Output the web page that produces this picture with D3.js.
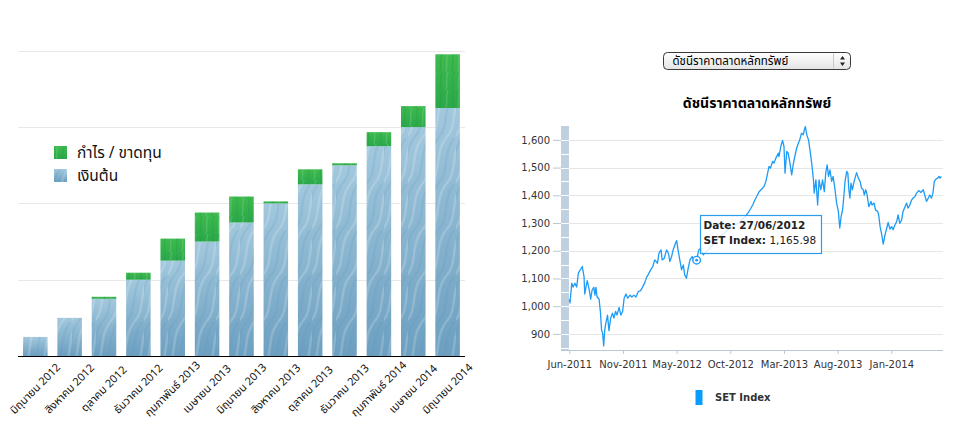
<!DOCTYPE html>
<html>
<head>
<meta charset="utf-8">
<script src="https://cdnjs.cloudflare.com/ajax/libs/d3/7.8.5/d3.min.js"></script>
<style>
  body { margin: 0; background: #fff; }
  svg text { font-family: Tahoma, "Noto Sans Thai", "Noto Sans", "DejaVu Sans", sans-serif; }
</style>
</head>
<body>
<div id="chart"></div>
<script>
// left chart: savings (principal) + profit/loss, every second month
var months = ['มิถุนายน 2012', 'สิงหาคม 2012', 'ตุลาคม 2012', 'ธันวาคม 2012', 'กุมภาพันธ์ 2013',
  'เมษายน 2013', 'มิถุนายน 2013', 'สิงหาคม 2013', 'ตุลาคม 2013', 'ธันวาคม 2013',
  'กุมภาพันธ์ 2014', 'เมษายน 2014', 'มิถุนายน 2014'];
var principal = [50000, 100000, 150000, 200000, 250000, 300000, 350000, 400000, 450000, 500000, 550000, 600000, 650000];
var profit = [0, 0, 5200, 18300, 57700, 76000, 68000, 5200, 39300, 5200, 36700, 55000, 140800];
var barGrid = [0, 200000, 400000, 600000, 800000];
var barLegend = ['กำไร / ขาดทุน', 'เงินต้น'];

// right chart: SET index
var selectLabel = 'ดัชนีราคาตลาดหลักทรัพย์';
var indexTitle = 'ดัชนีราคาตลาดหลักทรัพย์';
var tickDates = ['2011-06-01', '2011-11-01', '2012-05-01', '2012-10-01', '2013-03-01', '2013-08-01', '2014-01-01'];
var tickLabels = ['Jun-2011', 'Nov-2011', 'May-2012', 'Oct-2012', 'Mar-2013', 'Aug-2013', 'Jan-2014'];
var lastDate = '2014-06-01';
var yTicks = [900, 1000, 1100, 1200, 1300, 1400, 1500, 1600];
var tipDate = '2012-06-27', tipValue = 1165.98;

var setIndex = [
  ['2011-06-01', 1025], ['2011-06-03', 1012], ['2011-06-08', 1083], ['2011-06-12', 1069], ['2011-06-17', 1083],
  ['2011-06-22', 1069], ['2011-06-27', 1120], ['2011-07-01', 1128], ['2011-07-08', 1143], ['2011-07-13', 1107],
  ['2011-07-15', 1044], ['2011-07-22', 1092], ['2011-07-27', 1065], ['2011-08-01', 1025], ['2011-08-05', 1058],
  ['2011-08-10', 1068], ['2011-08-13', 1040], ['2011-08-16', 1068], ['2011-08-19', 1034], ['2011-08-25', 1025],
  ['2011-08-29', 975], ['2011-09-01', 914], ['2011-09-04', 902], ['2011-09-07', 857], ['2011-09-10', 914],
  ['2011-09-13', 938], ['2011-09-18', 968], ['2011-09-22', 912], ['2011-09-27', 957], ['2011-10-02', 975],
  ['2011-10-06', 957], ['2011-10-11', 981], ['2011-10-15', 968], ['2011-10-21', 996], ['2011-10-26', 968],
  ['2011-10-31', 981], ['2011-11-05', 1029], ['2011-11-11', 1044], ['2011-11-17', 1029], ['2011-11-25', 1040],
  ['2011-12-01', 1033], ['2011-12-08', 1040], ['2011-12-15', 1033], ['2011-12-23', 1053], ['2011-12-31', 1056],
  ['2012-01-06', 1068], ['2012-01-14', 1085], ['2012-01-20', 1104], ['2012-01-25', 1113], ['2012-02-03', 1131],
  ['2012-02-10', 1143], ['2012-02-15', 1161], ['2012-02-17', 1167], ['2012-02-26', 1155], ['2012-03-02', 1191],
  ['2012-03-09', 1203], ['2012-03-13', 1167], ['2012-03-20', 1173], ['2012-03-28', 1203], ['2012-04-03', 1191],
  ['2012-04-08', 1161], ['2012-04-14', 1179], ['2012-04-19', 1203], ['2012-04-25', 1221], ['2012-05-01', 1237],
  ['2012-05-05', 1203], ['2012-05-10', 1167], ['2012-05-15', 1131], ['2012-05-20', 1149], ['2012-05-24', 1113],
  ['2012-05-29', 1101], ['2012-06-03', 1137], ['2012-06-08', 1167], ['2012-06-14', 1179], ['2012-06-21', 1160],
  ['2012-06-27', 1165.98], ['2012-07-03', 1203], ['2012-07-09', 1209], ['2012-07-16', 1185], ['2012-07-23', 1195],
  ['2012-08-01', 1205], ['2012-08-09', 1218], ['2012-08-18', 1228], ['2012-08-26', 1242], ['2012-09-04', 1255],
  ['2012-09-13', 1262], ['2012-09-21', 1272], ['2012-09-30', 1282], ['2012-10-08', 1288], ['2012-10-17', 1295],
  ['2012-10-25', 1300], ['2012-11-02', 1312], ['2012-11-11', 1322], ['2012-11-19', 1335], ['2012-11-25', 1347],
  ['2012-12-03', 1365], ['2012-12-09', 1383], ['2012-12-14', 1395], ['2012-12-21', 1413], ['2012-12-28', 1422],
  ['2013-01-04', 1432], ['2013-01-09', 1450], ['2013-01-13', 1474], ['2013-01-18', 1504], ['2013-01-22', 1498],
  ['2013-01-28', 1522], ['2013-02-01', 1516], ['2013-02-06', 1534], ['2013-02-13', 1552], ['2013-02-15', 1540],
  ['2013-02-20', 1576], ['2013-02-25', 1598], ['2013-03-01', 1576], ['2013-03-04', 1480], ['2013-03-09', 1558],
  ['2013-03-13', 1552], ['2013-03-18', 1516], ['2013-03-23', 1474], ['2013-03-28', 1516], ['2013-04-01', 1540],
  ['2013-04-06', 1570], ['2013-04-11', 1588], ['2013-04-15', 1600], ['2013-04-20', 1624], ['2013-04-25', 1618],
  ['2013-04-28', 1636], ['2013-05-01', 1648], ['2013-05-05', 1618], ['2013-05-10', 1600], ['2013-05-14', 1564],
  ['2013-05-19', 1516], ['2013-05-24', 1456], ['2013-05-26', 1408], ['2013-05-31', 1456], ['2013-06-05', 1365],
  ['2013-06-09', 1456], ['2013-06-14', 1420], ['2013-06-19', 1456], ['2013-06-24', 1413], ['2013-06-28', 1480],
  ['2013-07-02', 1510], ['2013-07-06', 1468], ['2013-07-10', 1492], ['2013-07-15', 1450], ['2013-07-19', 1468],
  ['2013-07-24', 1426], ['2013-07-29', 1372], ['2013-08-03', 1342], ['2013-08-07', 1282], ['2013-08-11', 1324],
  ['2013-08-15', 1347], ['2013-08-19', 1401], ['2013-08-22', 1450], ['2013-08-27', 1486], ['2013-08-30', 1480],
  ['2013-09-02', 1420], ['2013-09-05', 1390], ['2013-09-08', 1444], ['2013-09-12', 1420], ['2013-09-17', 1450],
  ['2013-09-24', 1482], ['2013-09-29', 1462], ['2013-10-04', 1450], ['2013-10-08', 1426], ['2013-10-13', 1420],
  ['2013-10-16', 1401], ['2013-10-20', 1420], ['2013-10-23', 1408], ['2013-10-29', 1359], ['2013-11-04', 1378],
  ['2013-11-07', 1365], ['2013-11-13', 1372], ['2013-11-17', 1347], ['2013-11-23', 1342], ['2013-11-26', 1329],
  ['2013-11-30', 1287], ['2013-12-04', 1263], ['2013-12-09', 1224], ['2013-12-14', 1257], ['2013-12-19', 1282],
  ['2013-12-23', 1302], ['2013-12-28', 1278], ['2014-01-02', 1287], ['2014-01-06', 1276], ['2014-01-11', 1293],
  ['2014-01-16', 1305], ['2014-01-20', 1329], ['2014-01-25', 1299], ['2014-01-30', 1311], ['2014-02-03', 1342],
  ['2014-02-08', 1357], ['2014-02-13', 1372], ['2014-02-17', 1354], ['2014-02-22', 1365], ['2014-02-27', 1383],
  ['2014-03-03', 1390], ['2014-03-08', 1395], ['2014-03-13', 1408], ['2014-03-19', 1417], ['2014-03-25', 1410],
  ['2014-04-01', 1420], ['2014-04-05', 1401], ['2014-04-10', 1378], ['2014-04-15', 1390], ['2014-04-19', 1401],
  ['2014-04-24', 1390], ['2014-04-28', 1408], ['2014-05-02', 1450], ['2014-05-06', 1458], ['2014-05-11', 1462],
  ['2014-05-15', 1468], ['2014-05-18', 1462], ['2014-05-22', 1468]
];

(function ()
{
  'use strict';

  var svg = d3.select('#chart')
    .append('svg')
    .attr('width', 962)
    .attr('height', 439);

  var defs = svg.append('defs');
  makeTextures(defs);

  drawBars(svg);
  drawIndex(svg);

  function makeTextures(defs) {
    var gb = defs.append('linearGradient').attr('id', 'blueFill')
      .attr('x1', 0).attr('y1', 0).attr('x2', 0).attr('y2', 1);
    gb.append('stop').attr('offset', 0).attr('stop-color', '#a2c8dd');
    gb.append('stop').attr('offset', 1).attr('stop-color', '#6c9fc0');

    var gg = defs.append('linearGradient').attr('id', 'greenFill')
      .attr('x1', 0).attr('y1', 0).attr('x2', 0).attr('y2', 1);
    gg.append('stop').attr('offset', 0).attr('stop-color', '#3fba4f');
    gg.append('stop').attr('offset', 1).attr('stop-color', '#2aa84a');

    var pb = defs.append('pattern').attr('id', 'blueWaves')
      .attr('patternUnits', 'userSpaceOnUse')
      .attr('width', 24).attr('height', 46);
    ['M-2,46 C10,34 2,16 14,0', 'M6,46 C18,34 10,16 22,0', 'M14,46 C26,34 18,16 30,0', 'M-10,46 C2,34 -6,16 6,0']
      .forEach(function (p, i) {
        pb.append('path').attr('d', p).attr('fill', 'none')
          .attr('stroke', i % 2 ? '#5d92b6' : '#ffffff')
          .attr('stroke-opacity', i % 2 ? 0.16 : 0.18)
          .attr('stroke-width', 2.4);
      });

    var pg = defs.append('pattern').attr('id', 'greenStreaks')
      .attr('patternUnits', 'userSpaceOnUse')
      .attr('width', 12).attr('height', 18);
    ['M2,18 C4,12 1,6 4,0', 'M8,18 C10,12 7,6 10,0'].forEach(function (p, i) {
      pg.append('path').attr('d', p).attr('fill', 'none')
        .attr('stroke', i ? '#1f9a3c' : '#8ad48c')
        .attr('stroke-opacity', 0.3)
        .attr('stroke-width', 1.6);
    });
  }

  function drawBars(svg) {
    var g = svg.append('g').attr('class', 'bars');

    var x = d3.scaleBand()
      .domain(months)
      .range([18.3, 464.6])
      .paddingInner(0.286)
      .paddingOuter(0.137);
    var y = d3.scaleLinear().domain([0, 800000]).range([356, 50.8]);

    g.selectAll('line.grid')
      .data(barGrid.slice(1))
      .enter().append('line')
      .attr('class', 'grid')
      .attr('x1', 18).attr('x2', 465)
      .attr('y1', function (d) { return Math.round(y(d)) + 0.5; })
      .attr('y2', function (d) { return Math.round(y(d)) + 0.5; })
      .attr('stroke', '#e8e8e8');

    var bar = g.selectAll('g.bar')
      .data(months)
      .enter().append('g')
      .attr('class', 'bar');

    bar.append('rect')
      .attr('x', function (d) { return x(d); })
      .attr('width', x.bandwidth())
      .attr('y', function (d, i) { return y(principal[i]); })
      .attr('height', function (d, i) { return y(0) - y(principal[i]); })
      .attr('fill', 'url(#blueFill)');
    bar.append('rect')
      .attr('x', function (d) { return x(d); })
      .attr('width', x.bandwidth())
      .attr('y', function (d, i) { return y(principal[i]); })
      .attr('height', function (d, i) { return y(0) - y(principal[i]); })
      .attr('fill', 'url(#blueWaves)');

    bar.append('rect')
      .attr('x', function (d) { return x(d); })
      .attr('width', x.bandwidth())
      .attr('y', function (d, i) { return y(principal[i] + profit[i]); })
      .attr('height', function (d, i) { return y(principal[i]) - y(principal[i] + profit[i]); })
      .attr('fill', 'url(#greenFill)');
    bar.append('rect')
      .attr('x', function (d) { return x(d); })
      .attr('width', x.bandwidth())
      .attr('y', function (d, i) { return y(principal[i] + profit[i]); })
      .attr('height', function (d, i) { return y(principal[i]) - y(principal[i] + profit[i]); })
      .attr('fill', 'url(#greenStreaks)');

    g.append('line')
      .attr('x1', 18).attr('x2', 465)
      .attr('y1', 356.5).attr('y2', 356.5)
      .attr('stroke', '#000');

    g.selectAll('text.month')
      .data(months)
      .enter().append('text')
      .attr('class', 'month')
      .attr('transform', function (d) {
        return 'translate(' + (x(d) + x.bandwidth() / 2) + ',389) rotate(-45)';
      })
      .attr('text-anchor', 'middle')
      .attr('dominant-baseline', 'central')
      .attr('font-size', 11)
      .attr('fill', '#111')
      .text(function (d) { return d; });

    // legend
    var fills = [['url(#greenFill)', 'url(#greenStreaks)'], ['url(#blueFill)', 'url(#blueWaves)']];
    var leg = g.selectAll('g.legend')
      .data(barLegend)
      .enter().append('g')
      .attr('class', 'legend')
      .attr('transform', function (d, i) { return 'translate(54,' + (146 + i * 23) + ')'; });
    leg.append('rect').attr('width', 13).attr('height', 13)
      .attr('fill', function (d, i) { return fills[i][0]; });
    leg.append('rect').attr('width', 13).attr('height', 13)
      .attr('fill', function (d, i) { return fills[i][1]; });
    leg.append('text')
      .attr('x', 23).attr('y', 12)
      .attr('font-size', 15.5)
      .attr('fill', '#111')
      .text(function (d) { return d; });
  }

  function drawIndex(svg) {
    var g = svg.append('g').attr('class', 'index');
    var parse = d3.timeParse('%Y-%m-%d');
    var left = 561, right = 943, top = 126, bottom = 350;

    // fake dropdown
    var sel = g.append('g').attr('transform', 'translate(663.5,52.5)');
    var sg = defs.append('linearGradient').attr('id', 'selFill')
      .attr('x1', 0).attr('y1', 0).attr('x2', 0).attr('y2', 1);
    sg.append('stop').attr('offset', 0).attr('stop-color', '#ffffff');
    sg.append('stop').attr('offset', 1).attr('stop-color', '#e4e4e4');
    sel.append('rect').attr('width', 187).attr('height', 17).attr('rx', 4)
      .attr('fill', 'url(#selFill)').attr('stroke', '#3a3a3a');
    sel.append('line').attr('x1', 170).attr('x2', 170).attr('y1', 1).attr('y2', 16)
      .attr('stroke', '#c8c8c8');
    sel.append('path').attr('d', 'M176.5,7 L179,3.5 L181.5,7 Z M176.5,10 L179,13.5 L181.5,10 Z')
      .attr('fill', '#222');
    sel.append('text').attr('x', 9).attr('y', 12.5)
      .attr('font-size', 11.5).attr('fill', '#000')
      .text(selectLabel);

    g.append('text')
      .attr('x', 757).attr('y', 108)
      .attr('text-anchor', 'middle')
      .attr('font-size', 14).attr('font-weight', 'bold')
      .attr('fill', '#000')
      .text(indexTitle);

    var breaks = tickDates.concat([lastDate]).map(parse);
    var x = d3.scaleTime()
      .domain(breaks)
      .range(breaks.map(function (d, i) { return 569.3 + i * 53.67; }));
    var y = d3.scaleLinear().domain([842, 1650]).range([bottom, top]);

    g.selectAll('line.grid')
      .data(yTicks)
      .enter().append('line')
      .attr('class', 'grid')
      .attr('x1', 569).attr('x2', right)
      .attr('y1', function (d) { return Math.round(y(d)) + 0.5; })
      .attr('y2', function (d) { return Math.round(y(d)) + 0.5; })
      .attr('stroke', '#e6e6e6');

    // value axis band
    g.append('rect')
      .attr('x', left).attr('y', top)
      .attr('width', 8).attr('height', bottom - top)
      .attr('fill', '#c0d0df');
    g.selectAll('line.band')
      .data(d3.range(850, 1650, 50))
      .enter().append('line')
      .attr('class', 'band')
      .attr('x1', left).attr('x2', left + 8)
      .attr('y1', function (d) { return Math.round(y(d)) + 0.5; })
      .attr('y2', function (d) { return Math.round(y(d)) + 0.5; })
      .attr('stroke', '#fff');

    var yAxis = g.append('g')
      .attr('transform', 'translate(' + left + ',0)')
      .call(d3.axisLeft(y).tickValues(yTicks).tickFormat(d3.format(',')).tickSize(8).tickPadding(3));
    yAxis.select('.domain').remove();
    yAxis.selectAll('line').attr('stroke', '#b8c8d8');
    yAxis.selectAll('text').attr('font-size', 10).attr('fill', '#333')
      .style('font-family', '"DejaVu Sans", sans-serif');

    var xAxis = g.append('g')
      .attr('transform', 'translate(0,' + bottom + ')')
      .call(d3.axisBottom(x)
        .tickValues(tickDates.map(parse))
        .tickFormat(function (d, i) { return tickLabels[i]; })
        .tickSize(4).tickPadding(7));
    xAxis.select('.domain').remove();
    xAxis.selectAll('line').attr('stroke', '#b8c8d8');
    xAxis.selectAll('text').attr('font-size', 10).attr('fill', '#333')
      .style('font-family', '"DejaVu Sans", sans-serif');
    g.append('line')
      .attr('x1', left).attr('x2', right)
      .attr('y1', bottom + 0.5).attr('y2', bottom + 0.5)
      .attr('stroke', '#b8c8d8');

    var line = d3.line()
      .x(function (d) { return x(parse(d[0])); })
      .y(function (d) { return y(d[1]); });
    g.append('path')
      .datum(setIndex)
      .attr('d', line)
      .attr('fill', 'none')
      .attr('stroke', '#1d9bf5')
      .attr('stroke-width', 1.3)
      .attr('stroke-linejoin', 'round');

    // hover marker + balloon
    var mx = x(parse(tipDate)), my = y(tipValue);
    g.append('circle').attr('cx', mx).attr('cy', my).attr('r', 3.8)
      .attr('fill', '#fff').attr('stroke', '#1d9bf5').attr('stroke-width', 1.4);
    g.append('circle').attr('cx', mx).attr('cy', my).attr('r', 1.4).attr('fill', '#1d9bf5');

    var tip = g.append('g').attr('transform', 'translate(700.5,215.5)');
    tip.append('rect').attr('width', 121).attr('height', 38)
      .attr('fill', '#fff').attr('fill-opacity', 0.82)
      .attr('stroke', '#2a9cf0').attr('stroke-width', 1.2);
    var t1 = tip.append('text').attr('x', 3).attr('y', 13.5)
      .attr('font-size', 10.5).attr('fill', '#222')
      .style('font-family', '"DejaVu Sans", sans-serif');
    t1.append('tspan').attr('font-weight', 'bold')
      .text('Date: ' + d3.timeFormat('%d/%m/%Y')(parse(tipDate)));
    var t2 = tip.append('text').attr('x', 3).attr('y', 28)
      .attr('font-size', 10.5).attr('fill', '#222')
      .style('font-family', '"DejaVu Sans", sans-serif');
    t2.append('tspan').attr('font-weight', 'bold').text('SET Index:');
    t2.append('tspan').text(' ' + d3.format(',.2f')(tipValue));

    // legend
    g.append('rect').attr('x', 695.5).attr('y', 390).attr('width', 7).attr('height', 15)
      .attr('fill', '#0a9bff');
    g.append('text').attr('x', 715).attr('y', 401)
      .attr('font-size', 10).attr('font-weight', 'bold').attr('fill', '#333')
      .style('font-family', '"DejaVu Sans", sans-serif')
      .text('SET Index');
  }
})();
</script>
</body>
</html>
